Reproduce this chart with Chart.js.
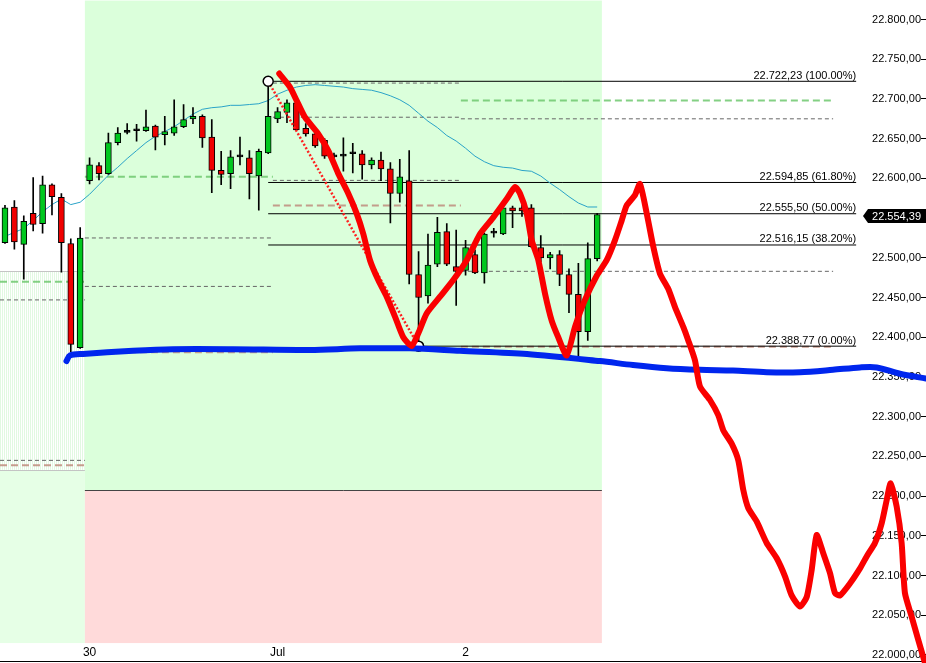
<!DOCTYPE html>
<html>
<head>
<meta charset="utf-8">
<script src="https://cdn.jsdelivr.net/npm/chart.js@4.4.1/dist/chart.umd.min.js"></script>
<style>
  html, body { margin: 0; padding: 0; background: #fff; }
  canvas { display: block; }
</style>
</head>
<body>
<canvas id="chart" width="926" height="663"></canvas>
<script>
// --- candles (bar number on x, price on y) ---
const opens  = [22519, 22564, 22517, 22556, 22543, 22592, 22576, 22518, 22387, 22597,
                22616, 22606, 22645, 22658, 22660, 22660, 22666, 22655, 22657, 22665,
                22675, 22678, 22652, 22610, 22606, 22627, 22626, 22603, 22632, 22675,
                22683, 22695, 22663, 22656, 22648, 22627, 22628, 22631, 22631, 22617,
                22623, 22612, 22581, 22597, 22479, 22452, 22492, 22533, 22489, 22484,
                22504, 22481, 22531, 22530, 22563, 22563, 22563, 22513, 22500, 22504,
                22479, 22454, 22407, 22499];
const highs  = [22566, 22572, 22553, 22601, 22603, 22593, 22581, 22524, 22538, 22626,
                22620, 22657, 22664, 22669, 22668, 22686, 22667, 22678, 22699, 22693,
                22689, 22680, 22674, 22634, 22635, 22652, 22635, 22637, 22722.23, 22689,
                22699, 22697, 22669, 22657, 22650, 22632, 22651, 22644, 22635, 22626,
                22633, 22620, 22624, 22635, 22508, 22530, 22551, 22543, 22535, 22522,
                22510, 22531, 22537, 22566, 22565, 22566, 22567, 22528, 22507, 22509,
                22486, 22493, 22519, 22556];
const lows   = [22518, 22511, 22473, 22534, 22531, 22554, 22482, 22382, 22386, 22593,
                22598, 22605, 22642, 22656, 22647, 22659, 22636, 22642, 22654, 22664,
                22669, 22639, 22582, 22592, 22587, 22617, 22574, 22560, 22631, 22670,
                22670, 22660, 22653, 22639, 22625, 22621, 22609, 22607, 22599, 22612,
                22597, 22544, 22570, 22467, 22388.77, 22443, 22489, 22490, 22440, 22478,
                22480, 22468, 22526, 22529, 22538, 22552, 22513, 22495, 22486, 22465,
                22431, 22376, 22396, 22496];
const closes = [22563, 22520, 22546, 22542, 22592, 22577, 22519, 22391, 22525, 22617,
                22606, 22645, 22657, 22658, 22660, 22665, 22652, 22659, 22665, 22674,
                22678, 22651, 22610, 22605, 22627, 22627, 22606, 22634, 22678, 22684,
                22695, 22661, 22656, 22641, 22628, 22627, 22628, 22631, 22617, 22623,
                22612, 22581, 22602, 22479, 22450, 22491, 22532, 22492, 22483, 22513,
                22481, 22530, 22531, 22563, 22559, 22559, 22514, 22500, 22504, 22479,
                22454, 22407, 22499, 22554.39];
// moving average, one value per candle
const maValues = [22527, 22532, 22537, 22547, 22558, 22567, 22574, 22567, 22570, 22580,
                  22592, 22604, 22614, 22625, 22635, 22645, 22653, 22659, 22665, 22673,
                  22681, 22687, 22689, 22690, 22692, 22692, 22693, 22694, 22698, 22706,
                  22711, 22715, 22717, 22718, 22717, 22716, 22715, 22713, 22712, 22711,
                  22708, 22704, 22699, 22692, 22682, 22672, 22664, 22654, 22647, 22638,
                  22628, 22621, 22616, 22614, 22613, 22610, 22609, 22603, 22594, 22586,
                  22577, 22569, 22564, 22564];
const candleIdx = closes.map((_, i) => i + 1);
const lastClose = closes[closes.length - 1];

// x axis day labels
const xTickPos = [10, 30, 50];
const xTickLabels = ['30', 'Jul', '2'];

// fibonacci retracement (swing high bar 29 -> swing low bar 45)
const fibValues = [22722.23, 22594.85, 22555.50, 22516.15, 22388.77];
const fibPct = ['100.00%', '61.80%', '50.00%', '38.20%', '0.00%'];
const fibStart = [29, 29, 29, 29, 45];
const fibEnd = 91.55;
const fibAnchorX = [29, 45];
const fibAnchorY = [22722.23, 22388.77];

// session levels: [from bar, to bar, price]
const greenLevels = [[0.47, 9.5, 22470], [9.5, 29.5, 22602], [49.5, 89.1, 22698]];
const grayLevels = [[0.47, 9.5, 22447], [0.47, 9.5, 22245], [9.5, 29.5, 22525], [9.5, 29.5, 22464],
                    [29.5, 49.5, 22720], [29.5, 49.5, 22677], [29.5, 49.5, 22597.5],
                    [49.5, 89.1, 22675], [49.5, 89.1, 22483]];
const brownLevels = [[0.47, 9.5, 22239], [9.5, 29.5, 22381], [29.5, 49.5, 22566], [49.5, 89.1, 22388]];

// session shading
const sessionStart = 9.5, sessionEnd = 64.5;
const rangeSplit = 22207.6;
const boxFloor = 22015;
const prevRangeTop = 22483, prevRangeBottom = 22233;

// hand drawn annotations
const redPathX = [30.18, 31.32, 32.03, 32.91, 34.33, 35.39, 36.46, 37.52, 38.41, 39.12,
                  39.83, 40.71, 41.61, 42.49, 43.37, 44.27, 44.97, 45.86, 47.28, 48.69,
                  50.12, 51.53, 52.95, 54.37, 55.26, 55.79, 56.50, 57.03, 57.74, 58.45,
                  59.16, 59.86, 60.76, 61.64, 62.70, 63.98, 65.01, 65.89, 66.61, 67.14,
                  68.02, 68.55, 69.27, 69.97, 70.68, 71.56, 72.28, 73.16, 73.69, 74.40,
                  74.94, 76.00, 76.88, 77.41, 78.31, 79.01, 79.54, 80.07, 80.97, 82.03,
                  83.09, 83.98, 84.69, 85.57, 86.29, 86.82, 87.35, 88.05, 88.77, 89.30,
                  89.83, 90.89, 91.96, 92.67, 93.55, 94.27, 94.80, 95.22, 95.86, 96.39,
                  96.74, 97.46, 98.16, 98.87];
const redPathY = [22732, 22715, 22698, 22677, 22656, 22635, 22606, 22581, 22556, 22530,
                  22497, 22472, 22451, 22426, 22400, 22389, 22405, 22430, 22451, 22472,
                  22497, 22530, 22551, 22574, 22589, 22581, 22556, 22522, 22497, 22455,
                  22421, 22400, 22377, 22413, 22447, 22478, 22497, 22522, 22547, 22566,
                  22579, 22593, 22556, 22514, 22480, 22461, 22438, 22413, 22396, 22371,
                  22338, 22321, 22302, 22283, 22266, 22245, 22208, 22185, 22168, 22141,
                  22122, 22099, 22075, 22061, 22073, 22107, 22151, 22128, 22103, 22078,
                  22075, 22090, 22109, 22124, 22141, 22166, 22195, 22216, 22187, 22141,
                  22078, 22048, 22019, 21990];
const bluePathX = [7.54, 7.91, 9.30, 14.62, 18.87, 25.26, 33.45, 38.77, 44.09, 49.40, 56.53, 64.30,
                   67.81, 71.39, 74.94, 78.45, 82.03, 85.57, 89.08, 91.96, 93.73, 96.21, 98.98];
const bluePathY = [22370, 22377, 22379, 22383, 22385, 22385, 22384, 22386, 22386, 22383, 22379, 22370,
                   22365, 22361, 22359, 22358, 22356, 22356, 22359, 22362, 22362, 22354, 22348];

const FONT = "'Liberation Sans', Arial, sans-serif";
Chart.defaults.font.family = FONT;
Chart.defaults.font.size = 11;
Chart.defaults.color = '#000';

function fmtPrice(v) {
    const parts = v.toFixed(2).split('.');
    return parts[0].replace(/\B(?=(\d{3})+(?!\d))/g, '.') + ',' + parts[1];
}

const zip = (xs, ys) => xs.map((x, i) => ({x: x, y: ys[i]}));

const canvas = document.getElementById('chart');
const ctx = canvas.getContext('2d');

const hatchCanvas = document.createElement('canvas');
hatchCanvas.width = 2;
hatchCanvas.height = 1;
const hctx = hatchCanvas.getContext('2d');
hctx.fillStyle = '#ffffff';
hctx.fillRect(0, 0, 2, 1);
hctx.fillStyle = '#e2f9e2';
hctx.fillRect(0, 0, 1, 1);
const hatch = ctx.createPattern(hatchCanvas, 'repeat');

const bodyColors = candleIdx.map((_, i) =>
    closes[i] > opens[i] ? '#00c81e' : (closes[i] < opens[i] ? '#f00000' : '#000'));

function levelSets(levels, color, width, dash, order) {
    return levels.map(l => ({
        type: 'line',
        data: [{x: l[0], y: l[2]}, {x: l[1], y: l[2]}],
        borderColor: color,
        borderWidth: width,
        borderDash: dash,
        pointRadius: 0,
        order: order,
    }));
}

const datasets = [
    {
        type: 'line',
        label: 'Drawing red',
        data: zip(redPathX, redPathY),
        borderColor: '#fa0000',
        borderWidth: 6,
        borderCapStyle: 'round',
        borderJoinStyle: 'round',
        tension: 0.2,
        pointRadius: 0,
        clip: false,
        order: 0,
    },
    {
        type: 'line',
        label: 'Drawing blue',
        data: zip(bluePathX, bluePathY),
        borderColor: '#0026ee',
        borderWidth: 6,
        borderCapStyle: 'round',
        borderJoinStyle: 'round',
        tension: 0.3,
        pointRadius: 0,
        clip: false,
        order: 1,
    },
    {
        type: 'line',
        label: 'Fib anchors',
        data: zip(fibAnchorX, fibAnchorY),
        showLine: false,
        pointRadius: 5,
        pointBackgroundColor: '#fff',
        pointBorderColor: '#000',
        pointBorderWidth: 1.5,
        order: 2,
    },
    {
        type: 'line',
        label: 'Fib trend',
        data: zip(fibAnchorX, fibAnchorY),
        borderColor: '#ff2020',
        borderWidth: 2.5,
        borderDash: [2, 2],
        pointRadius: 0,
        order: 3,
    },
    {
        type: 'bar',
        label: 'Body',
        data: candleIdx.map((x, i) => ({x: x, y: [opens[i], closes[i]]})),
        backgroundColor: bodyColors,
        borderColor: '#000',
        borderWidth: 1,
        borderSkipped: false,
        barThickness: 6,
        minBarLength: 2,
        grouped: false,
        order: 4,
    },
    {
        type: 'bar',
        label: 'Wick',
        data: candleIdx.map((x, i) => ({x: x, y: [lows[i], highs[i]]})),
        backgroundColor: '#000',
        borderWidth: 0,
        barThickness: 1,
        grouped: false,
        order: 5,
    },
    {
        type: 'line',
        label: 'MA',
        data: zip(candleIdx, maValues),
        borderColor: '#2aa3c8',
        borderWidth: 1,
        pointRadius: 0,
        order: 6,
    },
    ...fibValues.map((v, k) => ({
        type: 'line',
        data: [{x: fibStart[k], y: v}, {x: fibEnd, y: v}],
        borderColor: '#000',
        borderWidth: 1,
        pointRadius: 0,
        order: 7,
    })),
    ...levelSets(greenLevels, 'rgba(110, 200, 110, 0.85)', 2, [7, 4], 8),
    ...levelSets(brownLevels, 'rgba(190, 140, 125, 0.85)', 2, [7, 4], 8),
    ...levelSets(grayLevels, '#666', 1, [4, 3], 9),
];

const backgroundPlugin = {
    id: 'sessionBackground',
    beforeDraw(chart) {
        const {ctx, chartArea, scales: {x, y}} = chart;
        const px = v => x.getPixelForValue(v);
        const py = v => y.getPixelForValue(v);
        const left = chartArea.left;
        const top = Math.min(chartArea.top, py(y.max));
        const s0 = px(sessionStart), s1 = px(sessionEnd);
        ctx.save();
        ctx.fillStyle = hatch;
        ctx.fillRect(left, py(prevRangeTop), s0 - left, py(prevRangeBottom) - py(prevRangeTop));
        ctx.fillStyle = '#e6ffe6';
        ctx.fillRect(left, py(prevRangeBottom), s0 - left, py(boxFloor) - py(prevRangeBottom));
        ctx.fillStyle = '#dbffdb';
        ctx.fillRect(s0, top, s1 - s0, py(rangeSplit) - top);
        ctx.fillStyle = '#ffdada';
        ctx.fillRect(s0, py(rangeSplit), s1 - s0, py(boxFloor) - py(rangeSplit));
        ctx.lineWidth = 1;
        ctx.strokeStyle = '#c4c4c4';
        [prevRangeTop, prevRangeBottom].forEach(v => {
            const yy = Math.round(py(v)) + 0.5;
            ctx.beginPath();
            ctx.moveTo(left, yy);
            ctx.lineTo(s0, yy);
            ctx.stroke();
        });
        ctx.strokeStyle = '#444';
        const ys = Math.round(py(rangeSplit)) + 0.5;
        ctx.beginPath();
        ctx.moveTo(s0, ys);
        ctx.lineTo(s1, ys);
        ctx.stroke();
        ctx.restore();
    },
    afterDraw(chart) {
        const {ctx, chartArea, scales: {x, y}} = chart;
        ctx.save();
        // fibonacci labels
        ctx.font = '11px ' + FONT;
        ctx.fillStyle = '#000';
        ctx.textAlign = 'right';
        ctx.textBaseline = 'alphabetic';
        fibValues.forEach((v, k) => {
            ctx.fillText(fmtPrice(v) + ' (' + fibPct[k] + ')', x.getPixelForValue(fibEnd), y.getPixelForValue(v) - 2.5);
        });
        // last price tag
        const yy = Math.round(y.getPixelForValue(lastClose));
        const right = chart.width;
        const boxLeft = right - 58;
        ctx.fillStyle = '#000';
        ctx.beginPath();
        ctx.moveTo(boxLeft - 5, yy + 1);
        ctx.lineTo(boxLeft, yy - 6);
        ctx.lineTo(right, yy - 6);
        ctx.lineTo(right, yy + 8);
        ctx.lineTo(boxLeft, yy + 8);
        ctx.closePath();
        ctx.fill();
        ctx.fillStyle = '#fff';
        ctx.textBaseline = 'middle';
        ctx.fillText(fmtPrice(lastClose), right - 5, yy + 1.5);
        ctx.restore();
    }
};

new Chart(ctx, {
    type: 'line',
    data: { datasets: datasets },
    options: {
        responsive: false,
        animation: false,
        events: [],
        layout: { padding: 0, autoPadding: false },
        plugins: {
            legend: { display: false },
            tooltip: { enabled: false },
        },
        scales: {
            x: {
                type: 'linear',
                position: 'bottom',
                min: 0.47,
                max: 98.45,
                offset: false,
                afterBuildTicks: (scale) => {
                    scale.ticks = xTickPos.map(v => ({value: v}));
                },
                grid: { drawOnChartArea: false, drawTicks: false, color: '#000' },
                border: { display: true, color: '#000', width: 1 },
                ticks: {
                    autoSkip: false,
                    maxRotation: 0,
                    mirror: true,
                    padding: 1,
                    font: { size: 12, lineHeight: 1.2 },
                    color: '#000',
                    callback: (value) => xTickLabels[xTickPos.indexOf(value)],
                },
            },
            y: {
                type: 'linear',
                position: 'right',
                min: 21992.4,
                max: 22823.9,
                grid: { drawOnChartArea: false, drawTicks: true, tickLength: 5, color: '#000' },
                border: { display: false },
                ticks: {
                    mirror: true,
                    padding: 0,
                    stepSize: 50,
                    includeBounds: false,
                    color: '#000',
                    font: { size: 11, lineHeight: 0.1 },
                    callback: (value) => fmtPrice(value),
                },
            },
        },
    },
    plugins: [backgroundPlugin],
});
</script>
</body>
</html>
